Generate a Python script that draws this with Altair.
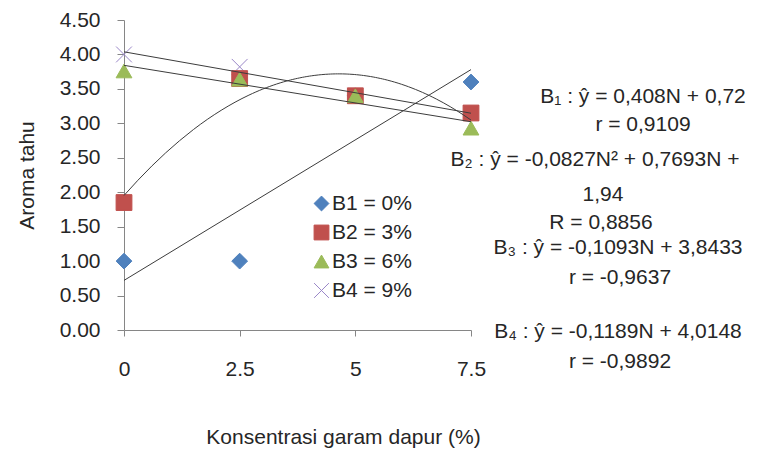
import altair as alt
import pandas as pd

# ---- data ----
conc = [0, 2.5, 5, 7.5]
series_names = ["B1 = 0%", "B2 = 3%", "B3 = 6%", "B4 = 9%"]
b1 = [1.00, 1.00, 3.40, 3.60]
b2 = [1.85, 3.65, 3.40, 3.15]
b3 = [3.76, 3.64, 3.40, 2.93]
b4 = [4.00, 3.82, 3.40, 3.15]
y_ticks = [0, 0.5, 1, 1.5, 2, 2.5, 3, 3.5, 4, 4.5]
x_ticks = [0, 2.5, 5, 7.5]
annotations = [
    "B\u2081 : \u0177 = 0,408N + 0,72",
    "r = 0,9109",
    "B\u2082 : \u0177 = -0,0827N\u00b2 + 0,7693N +",
    "1,94",
    "R = 0,8856",
    "B\u2083 : \u0177  = -0,1093N + 3,8433",
    "r = -0,9637",
    "B\u2084 : \u0177  = -0,1189N + 4,0148",
    "r = -0,9892",
]

# ---- styling / layout (not data) ----
FONT = "Liberation Sans"
TXT = "#262626"
fills = ["#4F81BD", "#C0504D", "#9BBB59", "#9A87C8"]
strokes = ["#4F81BD", "#C0504D", "#9BBB59", "#9A87C8"]
shapes = ["diamond", "square", "triangle-up", "M-1,-1L1,1M-1,1L1,-1"]
ann_pos = [(519, 77), (519, 105), (471, 140), (479, 175), (477, 203),
           (494, 228), (496, 258), (494, 312), (496, 342)]

series_values = {"B1 = 0%": b1, "B2 = 3%": b2, "B3 = 6%": b3, "B4 = 9%": b4}
rows = []
for name in ["B4 = 9%", "B1 = 0%", "B2 = 3%", "B3 = 6%"]:
    for c, v in zip(conc, series_values[name]):
        rows.append({"conc": c, "val": v, "series": name})
df = pd.DataFrame(rows)

xscale = alt.Scale(domain=[0, 7.5], nice=False, zero=False)
yscale = alt.Scale(domain=[0, 4.5], nice=False)

leg = alt.Legend(title=None, orient="none", legendX=187, legendY=173,
                 padding=0, rowPadding=7, labelOffset=0, symbolSize=220,
                 symbolStrokeWidth=1)

xaxis = alt.Axis(values=x_ticks, format=".1~f", labelOverlap=False,
                 labelFlush=False,
                 title="Konsentrasi garam dapur (%)",
                 titleX=219, titleY=107, titleBaseline="middle",
                 labelPadding=22, tickSize=6)
yaxis = alt.Axis(values=y_ticks, format=".2f", labelOverlap=False,
                 labelFlush=False,
                 title="Aroma tahu",
                 titleX=-97, titleY=155, titleBaseline="middle",
                 labelPadding=17, tickSize=7)

base = alt.Chart(df)

points = base.mark_point(opacity=1, strokeWidth=1, size=250).encode(
    x=alt.X("conc:Q", scale=xscale, axis=xaxis),
    y=alt.Y("val:Q", scale=yscale, axis=yaxis),
    shape=alt.Shape("series:N", scale=alt.Scale(domain=series_names, range=shapes), legend=leg),
    fill=alt.Fill("series:N", scale=alt.Scale(domain=series_names, range=fills), legend=leg),
    stroke=alt.Stroke("series:N", scale=alt.Scale(domain=series_names, range=strokes), legend=leg),
)

lin = base.transform_filter(
    alt.datum.series != "B2 = 3%"
).transform_regression(
    "conc", "val", groupby=["series"], method="linear", extent=[0, 7.5]
).mark_line(color="#3c3c3c", strokeWidth=1).encode(
    x=alt.X("conc:Q", scale=xscale, axis=xaxis),
    y=alt.Y("val:Q", scale=yscale, axis=yaxis),
    detail="series:N"
)

poly = base.transform_filter(
    alt.datum.series == "B2 = 3%"
).transform_regression(
    "conc", "val", groupby=["series"], method="poly", order=2, extent=[0, 7.5]
).mark_line(color="#3c3c3c", strokeWidth=1).encode(
    x=alt.X("conc:Q", scale=xscale, axis=xaxis),
    y=alt.Y("val:Q", scale=yscale, axis=yaxis),
    detail="series:N"
)

texts = []
for t, (px, py) in zip(annotations, ann_pos):
    texts.append(
        alt.Chart(alt.Data(values=[{"t": t}])).mark_text(
            font=FONT, fontSize=21, color=TXT, align="center", baseline="middle"
        ).encode(text="t:N", x=alt.value(px), y=alt.value(py))
    )

chart = alt.layer(points, lin, poly, *texts).properties(
    width=347, height=310,
    padding={"left": 116, "top": 12, "right": 278, "bottom": 122},
    autosize=alt.AutoSizeParams(type="none"),
).configure_view(stroke=None).configure_axis(
    grid=False, domainColor="#868686", tickColor="#868686",
    labelFont=FONT, labelFontSize=21, labelColor=TXT,
    titleFont=FONT, titleFontSize=21, titleColor=TXT, titleFontWeight="normal",
).configure_legend(
    labelFont=FONT, labelFontSize=21, labelColor=TXT
)

chart.save("out.html", embed_options={"renderer": "svg", "actions": False})
